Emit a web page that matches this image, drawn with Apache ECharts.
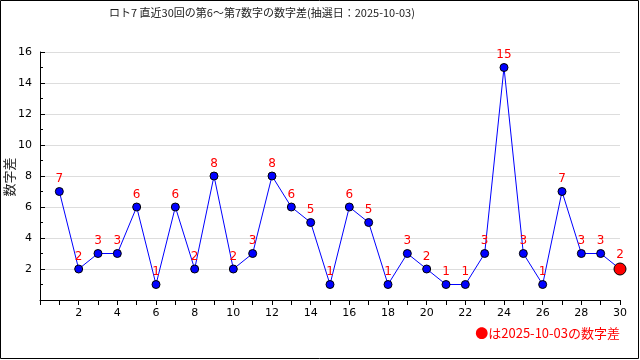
<!DOCTYPE html>
<html><head><meta charset="utf-8">
<script src="https://cdn.jsdelivr.net/npm/echarts@6/dist/echarts.min.js"></script>
<style>html,body{margin:0;padding:0;background:#fff}#c{width:640px;height:360px}</style>
</head><body><div id="c"></div>
<script>
const titleText = 'ロト7 直近30回の第6～第7数字の数字差(抽選日：2025-10-03)';
const yName = '数字差';
const legendText = '●は2025-10-03の数字差';
const draws = [1,2,3,4,5,6,7,8,9,10,11,12,13,14,15,16,17,18,19,20,21,22,23,24,25,26,27,28,29,30];
const diffs = [7,2,3,3,6,1,6,2,8,2,3,8,6,5,1,6,5,1,3,2,1,1,3,15,3,1,7,3,3,2];

const font = '"Noto Sans CJK JP", "DejaVu Sans", sans-serif';
const data = draws.map((d, i) => {
  const last = i === draws.length - 1;
  return {
    value: [d, diffs[i]],
    symbolSize: last ? 12 : 8,
    itemStyle: last ? {color: '#ff0000', borderColor: '#000', borderWidth: 1} : undefined
  };
});

const chart = echarts.init(document.getElementById('c'));
chart.setOption({
  animation: false,
  backgroundColor: '#fff',
  title: {
    text: titleText, left: 104, top: 2,
    textStyle: {fontFamily: font, fontSize: 11, fontWeight: 'normal', color: '#222'}
  },
  grid: {left: 40, right: 20, top: 52, bottom: 60, containLabel: false, outerBoundsMode: 'none'},
  xAxis: {
    type: 'value', min: 0, max: 30, interval: 2,
    axisLine: {lineStyle: {color: '#000', width: 1}},
    axisTick: {inside: false, length: 5, lineStyle: {color: '#000'}},
    minorTick: {show: true, splitNumber: 2, length: 5, lineStyle: {color: '#000'}},
    splitLine: {show: false},
    axisLabel: {color: '#000', fontSize: 11, fontFamily: 'DejaVu Sans', margin: 8,
      formatter: v => v === 0 ? '' : String(v)}
  },
  yAxis: {
    type: 'value', min: 0, max: 16, interval: 2,
    axisLine: {show: true, lineStyle: {color: '#000', width: 1}},
    axisTick: {show: true, inside: true, length: 5, lineStyle: {color: '#000'}},
    minorTick: {show: true, splitNumber: 2, length: 3, lineStyle: {color: '#000'}},
    splitLine: {show: true, lineStyle: {color: '#dddddd'}},
    axisLabel: {color: '#000', fontSize: 11, fontFamily: 'DejaVu Sans', margin: 8,
      formatter: v => v === 0 ? '' : String(v)}
  },
  series: [{
    type: 'line', data: data,
    symbol: 'circle', symbolSize: 8,
    lineStyle: {color: '#0000ff', width: 1},
    itemStyle: {color: '#0000ff', borderColor: '#000', borderWidth: 1},
    label: {show: true, position: 'top', distance: 2, color: '#ff0000', fontSize: 12, fontFamily: 'DejaVu Sans'},
    z: 3
  }],
  graphic: [
    {type: 'rect', shape: {x: 0.5, y: 0.5, width: 638, height: 358}, style: {fill: null, stroke: '#000', lineWidth: 1}, silent: true},
    {type: 'text', x: 9, y: 177, rotation: Math.PI / 2,
      style: {text: yName, fill: '#222', font: '13px ' + font, align: 'center', verticalAlign: 'middle'}},
    {type: 'text', right: 20, top: 327, style: {text: legendText, fill: '#ff0000', font: '13px ' + font}}
  ]
});
</script></body></html>
